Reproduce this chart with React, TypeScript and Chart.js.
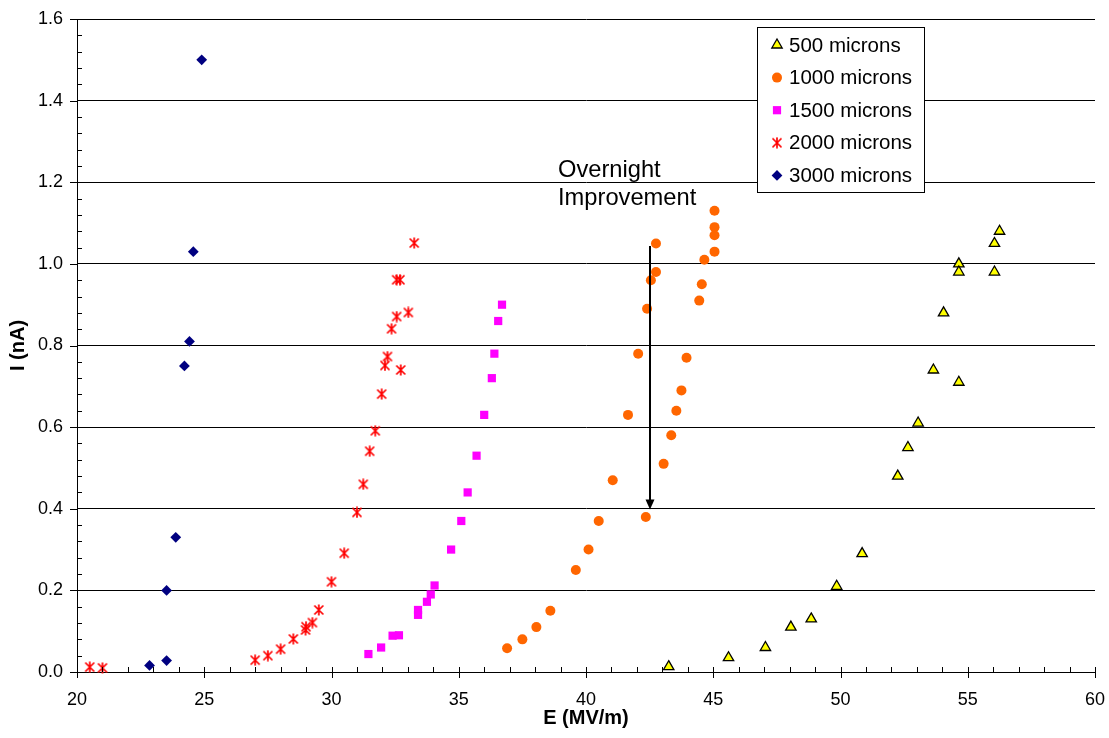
import React, { useEffect, useRef } from "react";
import { Chart, registerables } from "chart.js";
import { drawPoint } from "chart.js/helpers";

Chart.register(...registerables);

const FONT = '"Liberation Sans", Arial, Helvetica, sans-serif';

// ---- data ----
const seriesLabels = ["500 microns", "1000 microns", "1500 microns", "2000 microns", "3000 microns"];

const e500 = [43.25, 45.6, 47.05, 48.05, 48.85, 49.85, 50.85, 52.25, 52.65, 53.05, 53.65, 54.65, 54.05, 54.65, 54.65, 56.05, 56.05, 56.25];
const i500 = [0.013, 0.035, 0.06, 0.11, 0.13, 0.21, 0.29, 0.48, 0.55, 0.61, 0.74, 0.71, 0.88, 1.0, 0.98, 0.98, 1.05, 1.08];

const e1000 = [36.9, 37.5, 38.05, 38.6, 39.6, 40.1, 40.5, 41.05, 42.35, 43.05, 43.35, 43.55, 41.65, 43.75, 43.95, 42.05, 42.4, 44.45, 44.55, 42.55, 42.75, 44.65, 45.05, 45.05, 45.05, 45.05, 42.75];
const i1000 = [0.058, 0.08, 0.11, 0.15, 0.25, 0.3, 0.37, 0.47, 0.38, 0.51, 0.58, 0.64, 0.63, 0.69, 0.77, 0.78, 0.89, 0.91, 0.95, 0.96, 0.98, 1.01, 1.03, 1.07, 1.09, 1.13, 1.05];

const e1500 = [31.45, 31.95, 32.4, 32.65, 33.4, 33.4, 33.75, 33.9, 34.05, 34.7, 35.1, 35.35, 35.7, 36.0, 36.3, 36.4, 36.55, 36.7];
const i1500 = [0.044, 0.06, 0.089, 0.09, 0.14, 0.152, 0.172, 0.19, 0.212, 0.3, 0.37, 0.44, 0.53, 0.63, 0.72, 0.78, 0.86, 0.9];

const e2000 = [20.5, 21.0, 27.0, 27.5, 28.0, 28.5, 28.98, 29.0, 29.25, 29.5, 30.0, 30.5, 31.0, 31.25, 31.5, 31.72, 31.97, 32.1, 32.2, 32.72, 32.36, 32.56, 33.02, 32.56, 32.69, 33.25];
const i2000 = [0.012, 0.01, 0.029, 0.04, 0.056, 0.081, 0.103, 0.111, 0.121, 0.152, 0.221, 0.291, 0.391, 0.46, 0.541, 0.591, 0.681, 0.751, 0.773, 0.74, 0.841, 0.871, 0.881, 0.961, 0.961, 1.051];

const e3000 = [22.85, 23.52, 23.52, 23.88, 24.22, 24.42, 24.57, 24.9];
const i3000 = [0.016, 0.028, 0.2, 0.33, 0.75, 0.81, 1.03, 1.5];

const xTickValues = [20, 25, 30, 35, 40, 45, 50, 55, 60];
const yTickValues = [0, 0.2, 0.4, 0.6, 0.8, 1.0, 1.2, 1.4, 1.6];

const annotationLines = ["Overnight", "Improvement"];
const annotationE = 38.9;
const annotationI = [1.228, 1.16];
const arrowE = 42.5;
const arrowFromI = 1.044;
const arrowToI = 0.398;

// ---- styles ----
function makeAsterisk(): HTMLCanvasElement {
  const c = document.createElement("canvas");
  c.width = 12;
  c.height = 12;
  const g = c.getContext("2d")!;
  g.strokeStyle = "#ff0000";
  g.lineWidth = 1.7;
  g.beginPath();
  g.moveTo(1.5, 1.5); g.lineTo(10.5, 10.5);
  g.moveTo(10.5, 1.5); g.lineTo(1.5, 10.5);
  g.moveTo(6, 0.5); g.lineTo(6, 11.5);
  g.stroke();
  return c;
}

const zip = (xs: number[], ys: number[]) => xs.map((x, k) => ({ x, y: ys[k] }));

const zeroPad = (s: any) => {
  s.paddingLeft = 0;
  s.paddingRight = 0;
  s.paddingTop = 0;
  s.paddingBottom = 0;
};

export default function App() {
  const ref = useRef<HTMLCanvasElement | null>(null);

  useEffect(() => {
    document.body.style.margin = "0";
    const canvas = ref.current!;
    const star = makeAsterisk();

    const markers = [
      { pointStyle: "triangle", radius: 6, bg: "#ffff00", border: "#000000", bw: 1.3 },
      { pointStyle: "circle", radius: 5, bg: "#ff6600", border: "#ff6600", bw: 0 },
      { pointStyle: "rect", radius: 5.8, bg: "#ff00ff", border: "#ff00ff", bw: 0 },
      { pointStyle: star as any, radius: 6, bg: "#ff0000", border: "#ff0000", bw: 0 },
      { pointStyle: "rectRot", radius: 5.4, bg: "#000080", border: "#000080", bw: 0 },
    ];
    const seriesData = [zip(e500, i500), zip(e1000, i1000), zip(e1500, i1500), zip(e2000, i2000), zip(e3000, i3000)];

    const decor = {
      id: "decor",
      afterDraw(chart: any) {
        const { ctx, chartArea, scales } = chart;
        const xs = scales.x;
        const ys = scales.y;
        ctx.save();
        ctx.strokeStyle = "#000";
        ctx.lineWidth = 1;
        // x tick marks
        for (let v = 20; v <= 60; v += 1) {
          const px = Math.round(xs.getPixelForValue(v)) + 0.5;
          const major = v % 5 === 0;
          ctx.beginPath();
          ctx.moveTo(px, chartArea.bottom - 5);
          ctx.lineTo(px, chartArea.bottom + (major ? 6 : 0));
          ctx.stroke();
        }
        // y tick marks
        for (let k = 0; k <= 40; k++) {
          const py = Math.round(ys.getPixelForValue(k * 0.04)) + 0.5;
          const major = k % 5 === 0;
          ctx.beginPath();
          if (major) {
            ctx.moveTo(chartArea.left - 7, py);
            ctx.lineTo(chartArea.left, py);
          } else {
            ctx.moveTo(chartArea.left, py);
            ctx.lineTo(chartArea.left + 5, py);
          }
          ctx.stroke();
        }
        // annotation
        ctx.fillStyle = "#000";
        ctx.font = `23.7px ${FONT}`;
        ctx.textAlign = "left";
        ctx.textBaseline = "middle";
        annotationLines.forEach((t, k) => {
          ctx.fillText(t, xs.getPixelForValue(annotationE), ys.getPixelForValue(annotationI[k]));
        });
        const ax = Math.round(xs.getPixelForValue(arrowE));
        const ay0 = ys.getPixelForValue(arrowFromI);
        const ay1 = ys.getPixelForValue(arrowToI);
        ctx.lineWidth = 2;
        ctx.beginPath();
        ctx.moveTo(ax, ay0);
        ctx.lineTo(ax, ay1 - 8);
        ctx.stroke();
        ctx.beginPath();
        ctx.moveTo(ax - 4.5, ay1 - 10);
        ctx.lineTo(ax + 4.5, ay1 - 10);
        ctx.lineTo(ax, ay1);
        ctx.closePath();
        ctx.fill();
        // legend
        const lx = 757.5, ly = 27.5, lw = 167, lh = 165;
        ctx.fillStyle = "#fff";
        ctx.fillRect(lx, ly, lw, lh);
        ctx.lineWidth = 1;
        ctx.strokeStyle = "#000";
        ctx.strokeRect(lx, ly, lw, lh);
        ctx.font = `20.5px ${FONT}`;
        seriesLabels.forEach((label, k) => {
          const cy = 45 + k * 32.6;
          const m = markers[k];
          ctx.fillStyle = m.bg;
          ctx.strokeStyle = m.border;
          ctx.lineWidth = m.bw;
          drawPoint(ctx, { pointStyle: m.pointStyle, radius: m.radius, rotation: 0, borderWidth: m.bw } as any, 777, cy);
          ctx.fillStyle = "#000";
          ctx.fillText(label, 789, cy + 1);
        });
        ctx.restore();
      },
    };

    const chart = new Chart(canvas, {
      type: "scatter",
      data: {
        datasets: seriesLabels.map((label, k) => ({
          label,
          data: seriesData[k],
          pointStyle: markers[k].pointStyle,
          pointRadius: markers[k].radius,
          pointHoverRadius: markers[k].radius,
          backgroundColor: markers[k].bg,
          borderColor: markers[k].border,
          borderWidth: markers[k].bw,
          showLine: false,
          clip: false,
        })) as any,
      },
      options: {
        animation: false,
        responsive: false,
        devicePixelRatio: 1,
        layout: { padding: { top: 19, right: 14, bottom: 0, left: 0 } },
        plugins: { legend: { display: false }, tooltip: { enabled: false } },
        scales: {
          x: {
            type: "linear",
            min: 20,
            max: 60,
            afterFit: (s: any) => { s.height = 66; zeroPad(s); },
            afterBuildTicks: (s: any) => { s.ticks = xTickValues.map((v) => ({ value: v })); },
            ticks: { color: "#000", font: { family: FONT, size: 18 }, padding: 9, callback: (v: any) => String(v) },
            grid: { display: false },
            border: { display: true, color: "#000", width: 1 },
            title: { display: true, text: "E (MV/m)", color: "#000", font: { family: FONT, size: 20, weight: "bold" }, padding: { top: 0, bottom: 8 } },
          },
          y: {
            type: "linear",
            min: 0,
            max: 1.6,
            afterFit: (s: any) => { s.width = 77; zeroPad(s); },
            afterBuildTicks: (s: any) => { s.ticks = yTickValues.map((v) => ({ value: v })); },
            ticks: { color: "#000", font: { family: FONT, size: 18 }, padding: 14, callback: (v: any) => Number(v).toFixed(1) },
            grid: { display: true, color: "#000", lineWidth: 1, drawTicks: false },
            border: { display: true, color: "#000", width: 1 },
            title: { display: true, text: "I (nA)", color: "#000", font: { family: FONT, size: 20, weight: "bold" }, padding: { top: 6, bottom: 0 } },
          },
        },
      },
      plugins: [decor],
    } as any);

    return () => chart.destroy();
  }, []);

  return (
    <div style={{ position: "absolute", left: 0, top: 0, width: 1109, height: 738, background: "#fff" }}>
      <canvas ref={ref} width={1109} height={738} style={{ display: "block", width: 1109, height: 738 }} />
    </div>
  );
}
